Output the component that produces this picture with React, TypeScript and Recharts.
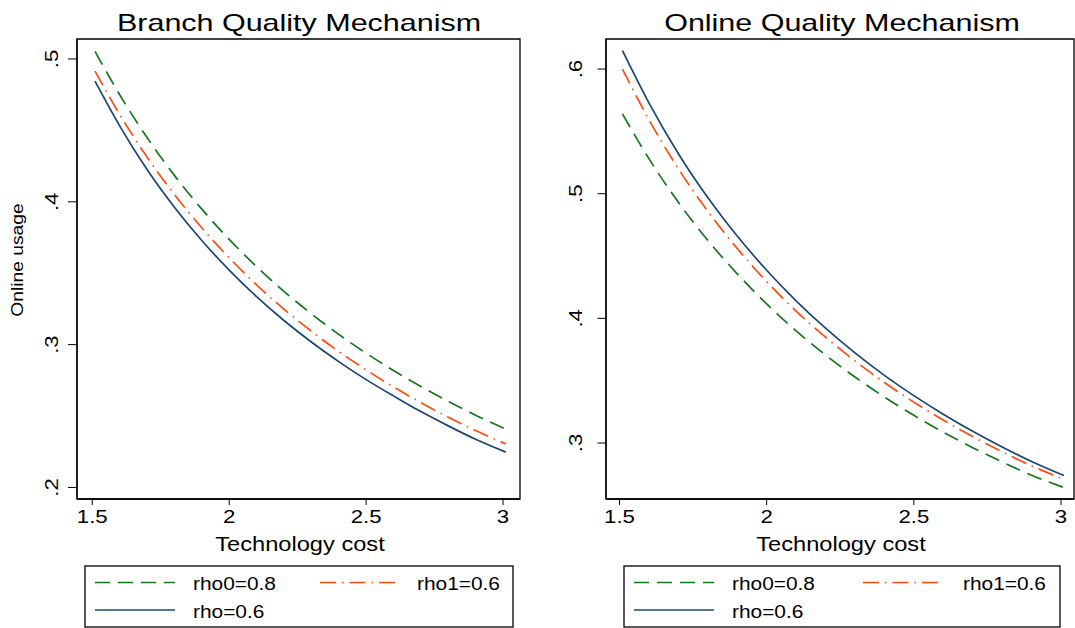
import React from 'react';
import { LineChart, Line, XAxis, YAxis, ReferenceArea } from 'recharts';

// ---------- data ----------
const techCost = [1.51, 1.6, 1.7, 1.8, 1.9, 2.0, 2.1, 2.2, 2.3, 2.4, 2.5, 2.6, 2.7, 2.8, 2.9, 3.01];

// Branch Quality Mechanism
const branchRho0 = [0.5053, 0.4750, 0.4450, 0.4185, 0.3949, 0.3737, 0.3546, 0.3373, 0.3216, 0.3072, 0.2940, 0.2819, 0.2707, 0.2603, 0.2506, 0.2408];
const branchRho1 = [0.4915, 0.4612, 0.4314, 0.4051, 0.3818, 0.3608, 0.3419, 0.3249, 0.3094, 0.2952, 0.2823, 0.2704, 0.2594, 0.2492, 0.2398, 0.2305];
const branchRho = [0.4845, 0.4532, 0.4226, 0.3962, 0.3729, 0.3522, 0.3336, 0.3169, 0.3018, 0.2881, 0.2755, 0.2641, 0.2531, 0.2431, 0.2337, 0.2247];

// Online Quality Mechanism
const onlineRho0 = [0.5640, 0.5281, 0.4931, 0.4626, 0.4357, 0.4116, 0.3900, 0.3706, 0.3530, 0.3369, 0.3222, 0.3087, 0.2963, 0.2848, 0.2742, 0.2643];
const onlineRho1 = [0.6000, 0.5594, 0.5200, 0.4859, 0.4560, 0.4295, 0.4059, 0.3849, 0.3659, 0.3486, 0.3328, 0.3184, 0.3052, 0.2930, 0.2817, 0.2709];
const onlineRho = [0.6147, 0.5728, 0.5321, 0.4969, 0.4660, 0.4386, 0.4141, 0.3921, 0.3723, 0.3543, 0.3380, 0.3231, 0.3094, 0.2968, 0.2852, 0.2739];

const xTicks = [1.5, 2, 2.5, 3];
const xTickLabels = ['1.5', '2', '2.5', '3'];
const branchYTicks = [0.2, 0.3, 0.4, 0.5];
const branchYTickLabels = ['.2', '.3', '.4', '.5'];
const onlineYTicks = [0.3, 0.4, 0.5, 0.6];
const onlineYTickLabels = ['.3', '.4', '.5', '.6'];

const seriesNames = ['rho0=0.8', 'rho1=0.6', 'rho=0.6'];
const panelTitles = ['Branch Quality Mechanism', 'Online Quality Mechanism'];
const xAxisTitle = 'Technology cost';
const yAxisTitle = 'Online usage';

// ---------- styles ----------
const FONT = '"Liberation Sans", Arial, Helvetica, sans-serif';
const SERIES_STYLE = [
  { key: 'rho0', color: '#13781b', dash: '15 8' },
  { key: 'rho1', color: '#ff4a0d', dash: '16 6 1.5 6' },
  { key: 'rho', color: '#1a476f', dash: undefined as string | undefined },
];

function buildRows(a: number[], b: number[], c: number[]) {
  return techCost.map((x, i) => ({ x, rho0: a[i], rho1: b[i], rho: c[i] }));
}

const branchRows = buildRows(branchRho0, branchRho1, branchRho);
const onlineRows = buildRows(onlineRho0, onlineRho1, onlineRho);

function labelFor(value: number, ticks: number[], labels: string[]) {
  const i = ticks.findIndex((t) => Math.abs(t - value) < 1e-9);
  return i >= 0 ? labels[i] : String(value);
}

const XTick = (props: any) => {
  const { x, y, payload } = props;
  return (
    <text
      transform={`translate(${x},${y + 16}) scale(1.2,1)`}
      textAnchor="middle"
      fontSize={18.5}
      fontFamily={FONT}
      fill="#000"
    >
      {labelFor(payload.value, xTicks, xTickLabels)}
    </text>
  );
};

const makeYTick = (ticks: number[], labels: string[], offset: number) => (props: any) => {
  const { x, y, payload } = props;
  return (
    <text
      transform={`translate(${x - offset},${y}) rotate(-90) scale(1.2,1)`}
      textAnchor="middle"
      fontSize={18.5}
      fontFamily={FONT}
      fill="#000"
    >
      {labelFor(payload.value, ticks, labels)}
    </text>
  );
};

type PanelProps = {
  rows: any[];
  left: number;
  width: number;
  yAxisWidth: number;
  marginRight: number;
  xDomain: [number, number];
  yDomain: [number, number];
  yTicks: number[];
  yLabels: string[];
  yTickSize: number;
  yLabelOffset: number;
};

function Panel(p: PanelProps) {
  const YTick = makeYTick(p.yTicks, p.yLabels, p.yLabelOffset);
  return (
    <div style={{ position: 'absolute', left: p.left, top: 0 }}>
      <LineChart
        width={p.width}
        height={628}
        data={p.rows}
        margin={{ top: 39, right: p.marginRight, bottom: 0, left: 0 }}
      >
        <XAxis
          type="number"
          dataKey="x"
          domain={p.xDomain}
          ticks={xTicks}
          interval={0}
          allowDataOverflow
          height={129}
          tickSize={6}
          tickMargin={2}
          tick={<XTick />}
          tickLine={{ stroke: '#000', strokeWidth: 1 }}
          axisLine={{ stroke: '#000', strokeWidth: 1.3 }}
        />
        <YAxis
          type="number"
          domain={p.yDomain}
          ticks={p.yTicks}
          interval={0}
          allowDataOverflow
          width={p.yAxisWidth}
          tickSize={p.yTickSize}
          tickMargin={2}
          tick={<YTick />}
          tickLine={{ stroke: '#000', strokeWidth: 1 }}
          axisLine={{ stroke: '#000', strokeWidth: 1.3 }}
        />
        <ReferenceArea
          x1={p.xDomain[0]}
          x2={p.xDomain[1]}
          y1={p.yDomain[0]}
          y2={p.yDomain[1]}
          fill="none"
          fillOpacity={0}
          stroke="#000"
          strokeWidth={1.3}
          ifOverflow="visible"
        />
        {SERIES_STYLE.map((s, i) => (
          <Line
            key={s.key}
            type="monotone"
            dataKey={s.key}
            name={seriesNames[i]}
            stroke={s.color}
            strokeWidth={1.7}
            strokeDasharray={s.dash}
            dot={false}
            activeDot={false}
            isAnimationActive={false}
          />
        ))}
      </LineChart>
    </div>
  );
}

function LegendBox({ x, w, sample2, text2 }: { x: number; w: number; sample2: number; text2: number }) {
  const rows = [
    { sx: x + 10, tx: x + 108, ly: 582.5, ty: 589.5, i: 0 },
    { sx: x + sample2, tx: x + text2, ly: 582.5, ty: 589.5, i: 1 },
    { sx: x + 10, tx: x + 108, ly: 610, ty: 617.5, i: 2 },
  ];
  return (
    <g>
      <rect x={x} y={566} width={w} height={61} fill="#fff" stroke="#000" strokeWidth={1.3} />
      {rows.map((r) => (
        <g key={r.i}>
          <line
            x1={r.sx}
            x2={r.sx + 80}
            y1={r.ly}
            y2={r.ly}
            stroke={SERIES_STYLE[r.i].color}
            strokeWidth={1.7}
            strokeDasharray={SERIES_STYLE[r.i].dash}
          />
          <text
            transform={`translate(${r.tx},${r.ty}) scale(1.16,1)`}
            fontSize={18}
            fontFamily={FONT}
            fill="#000"
          >
            {seriesNames[r.i]}
          </text>
        </g>
      ))}
    </g>
  );
}

export default function App() {
  return (
    <div style={{ position: 'absolute', left: 0, top: 0, width: 1075, height: 628, background: '#fff' }}>
      <Panel
        rows={branchRows}
        left={0}
        width={540}
        yAxisWidth={77}
        marginRight={20}
        xDomain={[1.4442, 3.062]}
        yDomain={[0.1919, 0.514]}
        yTicks={branchYTicks}
        yLabels={branchYTickLabels}
        yTickSize={9}
        yLabelOffset={8}
      />
      <Panel
        rows={onlineRows}
        left={540}
        width={535}
        yAxisWidth={66}
        marginRight={1}
        xDomain={[1.4541, 3.0442]}
        yDomain={[0.2551, 0.6241]}
        yTicks={onlineYTicks}
        yLabels={onlineYTickLabels}
        yTickSize={8.5}
        yLabelOffset={13.5}
      />
      <svg
        width={1075}
        height={628}
        style={{ position: 'absolute', left: 0, top: 0, pointerEvents: 'none' }}
      >
        <text transform="translate(299,30.5) scale(1.27,1)" textAnchor="middle" fontSize={24} fontFamily={FONT} fill="#000">
          {panelTitles[0]}
        </text>
        <text transform="translate(842,30.5) scale(1.27,1)" textAnchor="middle" fontSize={24} fontFamily={FONT} fill="#000">
          {panelTitles[1]}
        </text>
        <text transform="translate(300,550.5) scale(1.2,1)" textAnchor="middle" fontSize={19.7} fontFamily={FONT} fill="#000">
          {xAxisTitle}
        </text>
        <text transform="translate(841,550.5) scale(1.2,1)" textAnchor="middle" fontSize={19.7} fontFamily={FONT} fill="#000">
          {xAxisTitle}
        </text>
        <text transform="translate(22.5,260) rotate(-90) scale(1.12,1)" textAnchor="middle" fontSize={17.2} fontFamily={FONT} fill="#000">
          {yAxisTitle}
        </text>
        <LegendBox x={85} w={428} sample2={235} text2={332} />
        <LegendBox x={624} w={436} sample2={239} text2={339} />
      </svg>
    </div>
  );
}
